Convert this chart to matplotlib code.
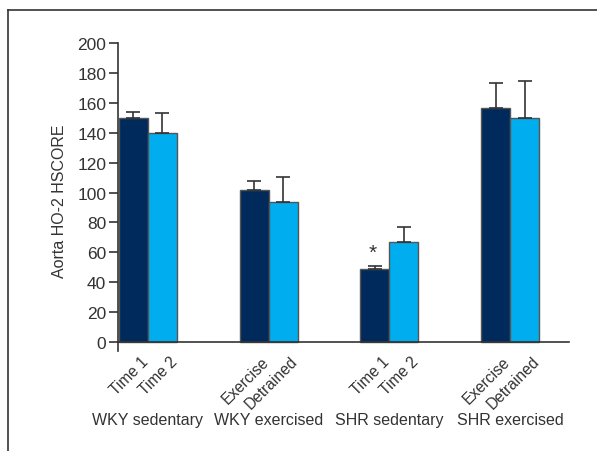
import numpy as np
import matplotlib
matplotlib.use("Agg")
import matplotlib.pyplot as plt
import matplotlib.transforms as mtrans
from matplotlib.lines import Line2D

plt.rcParams['font.family'] = ['Liberation Sans', 'DejaVu Sans']

# data
groups = ["WKY sedentary", "WKY exercised", "SHR sedentary", "SHR exercised"]
labels_a = ["Time 1", "Exercise", "Time 1", "Exercise"]
labels_b = ["Time 2", "Detrained", "Time 2", "Detrained"]
vals_a = [150, 102, 49, 156.5]
err_a = [4, 6, 2, 17]
vals_b = [140, 93.5, 67, 149.5]
err_b = [13, 17, 10, 25]

dark = "#002a5c"
light = "#00aeef"
txt = "#333333"

fig = plt.figure(figsize=(5.97, 4.52), dpi=100)
ax = fig.add_axes([0.1977, 0.2212, 0.7553, 0.6815])

x = np.arange(len(groups))
w = 0.24
ax.bar(x - w / 2, vals_a, w, color=dark, edgecolor="#555555", linewidth=1)
ax.bar(x + w / 2, vals_b, w, color=light, edgecolor="#555555", linewidth=1)
ax.errorbar(x - w / 2, vals_a, yerr=[np.zeros(4), err_a], fmt="none",
            ecolor=txt, elinewidth=1.2, capsize=5, capthick=1.2)
ax.errorbar(x + w / 2, vals_b, yerr=[np.zeros(4), err_b], fmt="none",
            ecolor=txt, elinewidth=1.2, capsize=5, capthick=1.2)

# significance mark
ax.text(x[2] - w / 2 - 0.02, 60, "*", ha="center", va="center",
        fontsize=15, color=txt)

ax.set_xlim(-0.248, 3.488)
ax.set_ylim(-6, 200)
ax.set_yticks(np.arange(0, 201, 20))
ax.tick_params(axis="y", length=6.5, width=1.2, pad=2, labelsize=12.5, colors=txt)
ax.spines["top"].set_visible(False)
ax.spines["right"].set_visible(False)
ax.spines["bottom"].set_position(("data", 0))
for s in ("left", "bottom"):
    ax.spines[s].set_color(txt)
    ax.spines[s].set_linewidth(1.2)

ticks = np.concatenate([x - w / 2, x + w / 2])
ax.set_xticks(ticks)
ax.set_xticklabels(labels_a + labels_b, rotation=45, ha="right",
                   rotation_mode="anchor", fontsize=11.2, color=txt)
ax.tick_params(axis="x", length=0, pad=8)
shift = mtrans.ScaledTranslation(0.07, 0, fig.dpi_scale_trans)
for lbl in ax.get_xticklabels():
    lbl.set_transform(lbl.get_transform() + shift)

grp_tr = mtrans.blended_transform_factory(ax.transData, fig.transFigure)
for xi, g in zip(x, groups):
    ax.text(xi, 1 - 421 / 452, g, transform=grp_tr, ha="center",
            va="center", fontsize=11.5, color=txt)

ax.set_ylabel("Aorta HO-2 HSCORE", fontsize=11.5, color=txt)
ax.yaxis.set_label_coords(-0.113, 0.489)

# outer frame (top and left edges)
fig.add_artist(Line2D([8 / 597, 8 / 597], [0, 1 - 11 / 452], transform=fig.transFigure,
                      color=txt, linewidth=1.2))
fig.add_artist(Line2D([8 / 597, 1], [1 - 11 / 452, 1 - 11 / 452], transform=fig.transFigure,
                      color=txt, linewidth=1.2))

fig.savefig("out.png", dpi=100)
